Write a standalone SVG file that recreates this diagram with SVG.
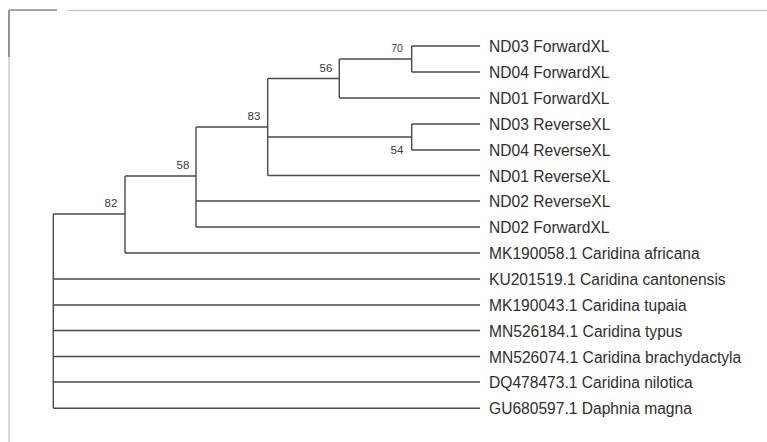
<svg xmlns="http://www.w3.org/2000/svg" width="767" height="442" viewBox="0 0 767 442">
<style>
.br{fill:none;stroke:#4a4a4a;stroke-width:1.4}
.lf{font-family:"Liberation Sans",Arial,sans-serif;font-size:15.6px;fill:#2e2e2e}
.bs{font-family:"Liberation Sans",Arial,sans-serif;font-size:11.5px;fill:#3a3a3a;text-anchor:middle}
</style>
<rect width="767" height="442" fill="#fff"/>
<g id="frame">
<line x1="9" y1="10.5" x2="9" y2="442" stroke="#c8c8c8" stroke-width="1.4"/>
<line x1="9" y1="10" x2="9" y2="57" stroke="#777" stroke-width="1.4"/>
<line x1="9" y1="10" x2="57" y2="10" stroke="#888" stroke-width="1.4"/>
<line x1="68" y1="10.5" x2="767" y2="10.5" stroke="#c8c8c8" stroke-width="1.4"/>
</g>
<g id="connectors">
<path class="br" d="M53.3,214 V408.3 M53.3,214 H125 M53.3,279 H480 M53.3,305 H480 M53.3,330.5 H480 M53.3,356.5 H480 M53.3,382 H480 M53.3,408.3 H480"/>
<path class="br" d="M125,176 V253 M125,176 H196 M125,253 H480"/>
<path class="br" d="M196,127 V227 M196,127 H267.7 M196,201 H480 M196,227 H480"/>
<path class="br" d="M267.7,78.5 V175.5 M267.7,78.5 H339.3 M267.7,137 H411.7 M267.7,175.5 H480"/>
<path class="br" d="M339.3,59 V98 M339.3,59 H411.7 M339.3,98 H480"/>
<path class="br" d="M411.7,46 V72 M411.7,46 H480 M411.7,72 H480"/>
<path class="br" d="M411.7,124 V150 M411.7,124 H480 M411.7,150 H480"/>
</g>
<g id="bootstrap">
<text class="bs" x="397" y="51.7" style="font-size:10.5px">70</text>
<text class="bs" x="326" y="71.7">56</text>
<text class="bs" x="397" y="154">54</text>
<text class="bs" x="254" y="120">83</text>
<text class="bs" x="183" y="169">58</text>
<text class="bs" x="111" y="207">82</text>
</g>
<g id="leaf-ND03F"><text class="lf" x="489" y="52">ND03 ForwardXL</text></g>
<g id="leaf-ND04F"><text class="lf" x="489" y="78">ND04 ForwardXL</text></g>
<g id="leaf-ND01F"><text class="lf" x="489" y="104">ND01 ForwardXL</text></g>
<g id="leaf-ND03R"><text class="lf" x="489" y="130">ND03 ReverseXL</text></g>
<g id="leaf-ND04R"><text class="lf" x="489" y="156">ND04 ReverseXL</text></g>
<g id="leaf-ND01R"><text class="lf" x="489" y="181.5">ND01 ReverseXL</text></g>
<g id="leaf-ND02R"><text class="lf" x="489" y="207">ND02 ReverseXL</text></g>
<g id="leaf-ND02F"><text class="lf" x="489" y="233">ND02 ForwardXL</text></g>
<g id="leaf-MK190058"><text class="lf" x="489" y="259">MK190058.1 Caridina africana</text></g>
<g id="leaf-KU201519"><text class="lf" x="489" y="285">KU201519.1 Caridina cantonensis</text></g>
<g id="leaf-MK190043"><text class="lf" x="489" y="311">MK190043.1 Caridina tupaia</text></g>
<g id="leaf-MN526184"><text class="lf" x="489" y="336.5">MN526184.1 Caridina typus</text></g>
<g id="leaf-MN526074"><text class="lf" x="489" y="362.5">MN526074.1 Caridina brachydactyla</text></g>
<g id="leaf-DQ478473"><text class="lf" x="489" y="388">DQ478473.1 Caridina nilotica</text></g>
<g id="leaf-GU680597"><text class="lf" x="489" y="414.3">GU680597.1 Daphnia magna</text></g>
</svg>
